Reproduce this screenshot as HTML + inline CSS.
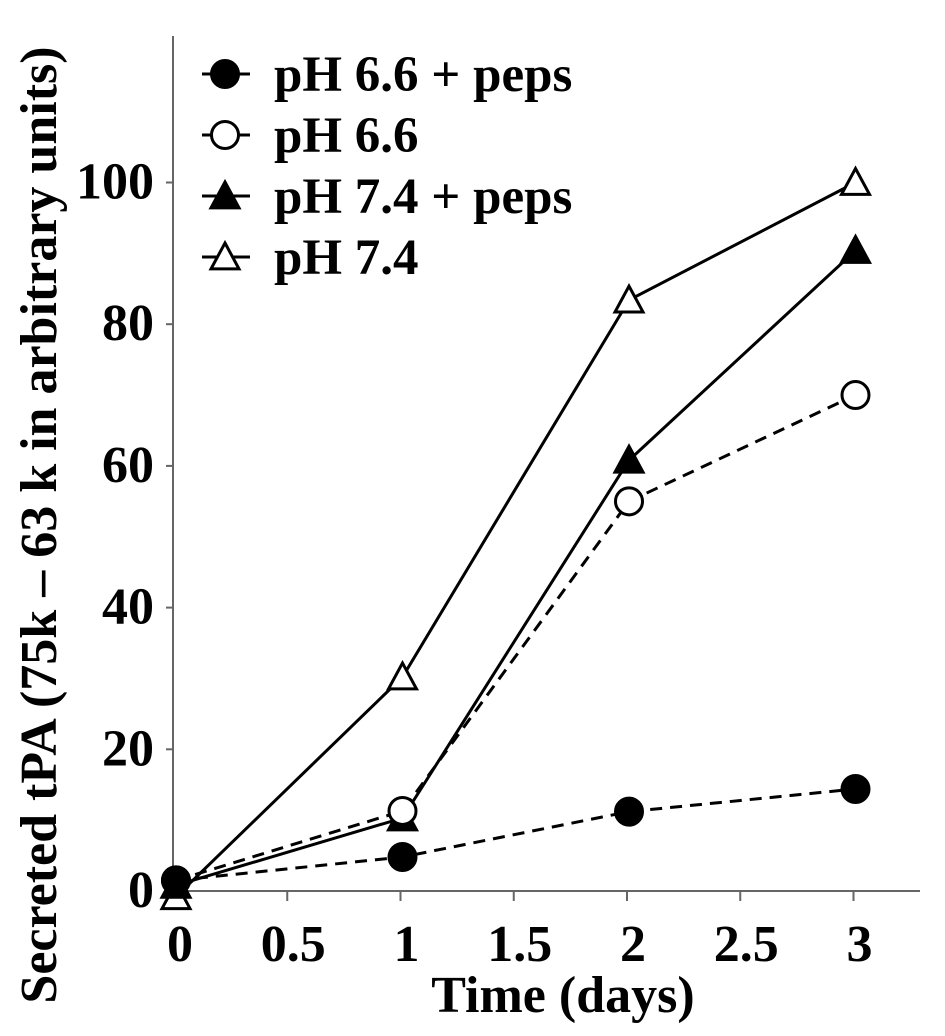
<!DOCTYPE html>
<html><head><meta charset="utf-8"><style>
html,body{margin:0;padding:0;background:#fff;}
svg{display:block;font-family:"Liberation Serif",serif;font-weight:bold;}
</style></head><body>
<svg id="chart" width="945" height="1036" viewBox="0 0 945 1036" xmlns="http://www.w3.org/2000/svg">
<g id="axes"></g>
<g id="series"></g>
<g id="legend"></g>
<text x="563" y="1012" font-size="52" text-anchor="middle">Time (days)</text>
<text transform="translate(56,525) rotate(-90)" font-size="52" text-anchor="middle">Secreted tPA (75k – 63 k in arbitrary units)</text>
</svg>
<script>
const xTicks=[0,0.5,1,1.5,2,2.5,3];
const xTickLabels=["0","0.5","1","1.5","2","2.5","3"];
const yTicks=[0,20,40,60,80,100];
const yTickLabels=["0","20","40","60","80","100"];
const days=[0,1,2,3];
const ph66peps=[1.5,4.8,11.2,14.4];
const ph66=[1.5,11.3,55,70];
const ph74peps=[0.8,10.3,60.8,90.4];
const ph74=[-0.8,30.2,83.4,100];
const seriesNames=["pH 6.6 + peps","pH 6.6","pH 7.4 + peps","pH 7.4"];

const NS="http://www.w3.org/2000/svg";
const X=v=>176+v*226.5;
const Y=v=>891-v*7.085;
function mk(tag,attrs,parent){const e=document.createElementNS(NS,tag);for(const k in attrs)e.setAttribute(k,attrs[k]);parent.appendChild(e);return e;}
const axes=document.getElementById('axes');
let el=mk('line',{x1:173,y1:36,x2:173,y2:892,stroke:'#666','stroke-width':2},axes);


el=mk('line',{x1:172,y1:891,x2:920,y2:891,stroke:'#666','stroke-width':2},axes);


xTicks.forEach((t,i)=>{
  let tk=mk('line',{x1:X(t)-2,y1:891,x2:X(t)-2,y2:901,stroke:'#666','stroke-width':2},axes);
  
  
  let tx=mk('text',{x:X(t)+4,y:961,'font-size':52,'text-anchor':'middle'},axes);
  tx.textContent=xTickLabels[i];
  
  
});
yTicks.forEach((t,i)=>{
  let tk=mk('line',{x1:166,y1:Y(t),x2:173,y2:Y(t),stroke:'#666','stroke-width':2},axes);
  
  
  let tx=mk('text',{x:154,y:Y(t)+16,'font-size':52,'text-anchor':'end'},axes);
  tx.textContent=yTickLabels[i];
  
  
});
function marker(type,x,y,parent,s){
  s=s||1;
  if(type==='fc'||type==='oc'){
    return mk('circle',{cx:x,cy:y,r:13.5*s,fill:type==='fc'?'#000':'#fff',stroke:'#000','stroke-width':3},parent);
  }
  const h=14*s;
  return mk('polygon',{points:`${x},${y-h} ${x+h},${y+h*0.85} ${x-h},${y+h*0.85}`,fill:type==='ft'?'#000':'#fff',stroke:'#000','stroke-width':3},parent);
}
const ser=document.getElementById('series');
const defs=[[ph74,'ot','none','pH-7.4'],[ph74peps,'ft','none','pH-7.4-peps'],[ph66,'oc','12,8','pH-6.6'],[ph66peps,'fc','12,8','pH-6.6-peps']];
defs.forEach(([vals,type,dash,nm])=>{
  const g=mk('g',{},ser);
  
  
  const ln=mk('polyline',{points:vals.map((v,i)=>X(days[i])+','+Y(v)).join(' '),fill:'none',stroke:'#000','stroke-width':3,'stroke-dasharray':dash},g);
  
  
  vals.forEach((v,i)=>{
    const m=marker(type,X(days[i]),Y(v),g);
    
    
  });
});
const leg=document.getElementById('legend');
const types=['fc','oc','ft','ot'];
seriesNames.forEach((n,i)=>{
  const y=74+i*61;
  const g=mk('g',{},leg);
  
  
  mk('line',{x1:202,y1:y,x2:250,y2:y,stroke:'#000','stroke-width':3},g);
  marker(types[i],225,y,g);
  const t=mk('text',{x:274,y:y+17,'font-size':51},g);
  t.textContent=n;
});
</script>
</body></html>
